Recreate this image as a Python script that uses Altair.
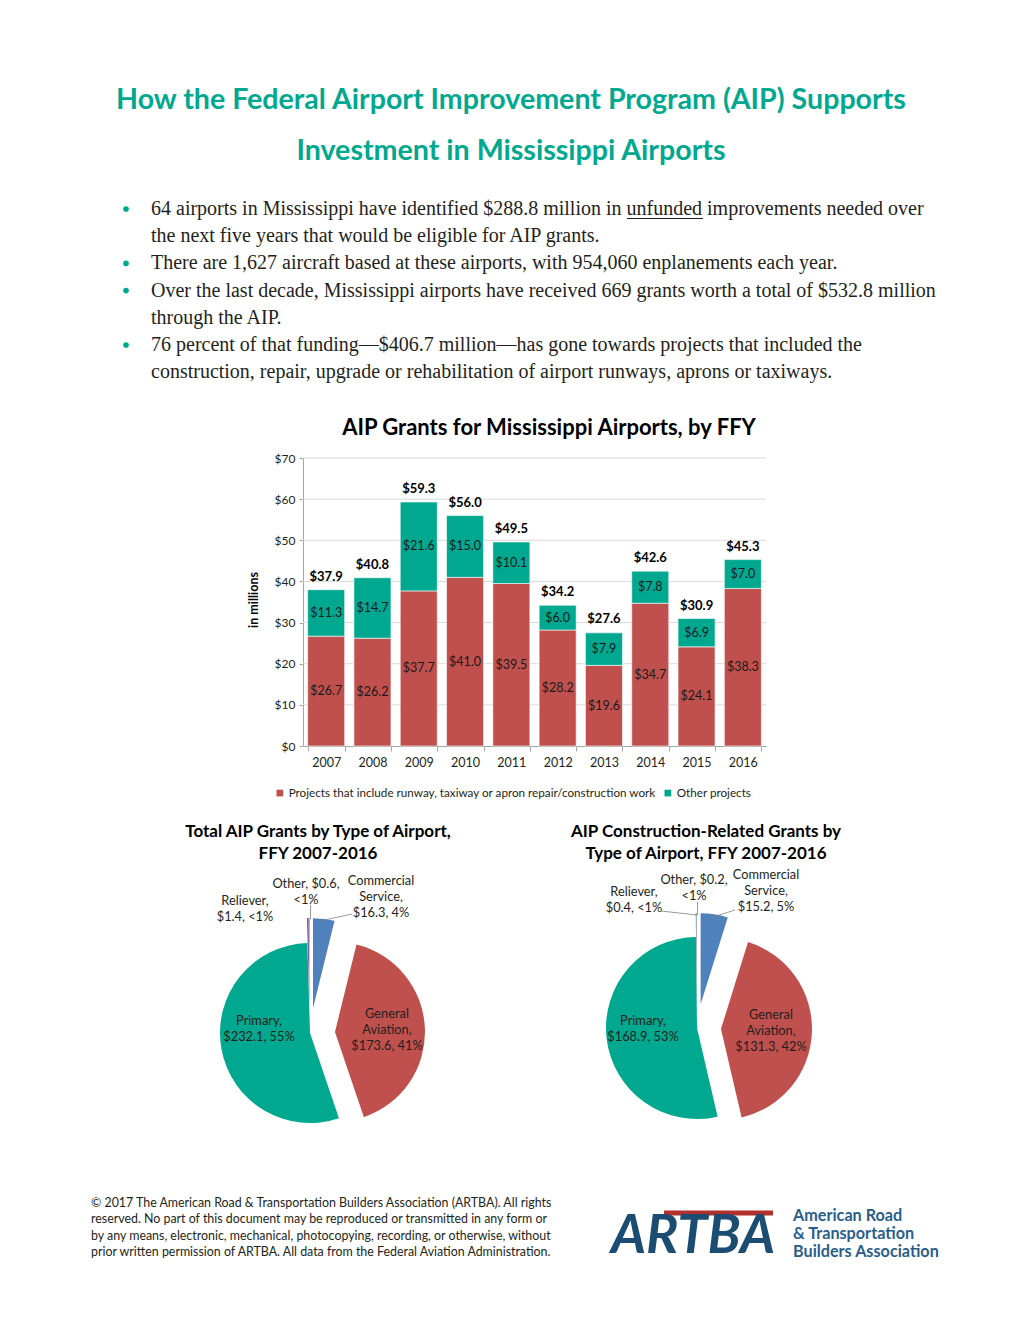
import math
import altair as alt
import pandas as pd

# ---------------- data ----------------
title_lines = ["How the Federal Airport Improvement Program (AIP) Supports",
               "Investment in Mississippi Airports"]
bullets = [
    ["64 airports in Mississippi have identified $288.8 million in unfunded improvements needed over",
     "the next five years that would be eligible for AIP grants."],
    ["There are 1,627 aircraft based at these airports, with 954,060 enplanements each year."],
    ["Over the last decade, Mississippi airports have received 669 grants worth a total of $532.8 million",
     "through the AIP."],
    ["76 percent of that funding\u2014$406.7 million\u2014has gone towards projects that included the",
     "construction, repair, upgrade or rehabilitation of airport runways, aprons or taxiways."],
]
bar_title = "AIP Grants for Mississippi Airports, by FFY"
y_axis_title = "in millions"
years = ["2007", "2008", "2009", "2010", "2011", "2012", "2013", "2014", "2015", "2016"]
runway_work = [26.7, 26.2, 37.7, 41.0, 39.5, 28.2, 19.6, 34.7, 24.1, 38.3]
other_projects = [11.3, 14.7, 21.6, 15.0, 10.1, 6.0, 7.9, 7.8, 6.9, 7.0]
year_totals = [37.9, 40.8, 59.3, 56.0, 49.5, 34.2, 27.6, 42.6, 30.9, 45.3]
series_names = ["Projects that include runway, taxiway or apron repair/construction work",
                "Other projects"]
y_ticks = [0, 10, 20, 30, 40, 50, 60, 70]

pie_titles = [["Total AIP Grants by Type of Airport,", "FFY 2007-2016"],
              ["AIP Construction-Related  Grants by", "Type of Airport, FFY 2007-2016"]]
airport_types = ["Commercial Service", "General Aviation", "Primary", "Reliever", "Other"]
total_grants = [16.3, 173.6, 232.1, 1.4, 0.6]
total_shares = ["4%", "41%", "55%", "<1%", "<1%"]
construction_grants = [15.2, 131.3, 168.9, 0.4, 0.2]
construction_shares = ["5%", "42%", "53%", "<1%", "<1%"]

footer_lines = [
    "\u00a9 2017 The American Road & Transportation Builders Association (ARTBA). All rights",
    "reserved. No part of this document may be reproduced or transmitted in any form or",
    "by any means, electronic, mechanical, photocopying, recording, or otherwise, without",
    "prior written permission of ARTBA. All data from the Federal Aviation Administration.",
]
org_name_lines = ["American Road", "& Transportation", "Builders Association"]
logo_text = "ARTBA"

# ---------------- style ----------------
W, H = 1020, 1320
TEAL = "#00A88F"
RED = "#C0504D"
BLUE = "#4F81BD"
PURPLE = "#8064A2"
LBLUE = "#4BACC6"
DARK = "#231F20"
SANS = "Lato"
SERIF = "Liberation Serif"
NAVY = "#1B4C72"
ORG = "#2A5E8A"

PLOT_L, PLOT_R, PLOT_T, PLOT_B = 303, 766, 458, 746


def text_layer(text, x, y, size, font=SANS, weight="normal", color=DARK, align="center",
               angle=None, style="normal", line_height=None, baseline="middle"):
    """y is the (middle) position of the first line."""
    kw = dict(fontSize=size, font=font, fontWeight=weight, color=color, align=align,
              baseline=baseline, fontStyle=style)
    if angle is not None:
        kw["angle"] = angle
    if line_height is not None:
        kw["lineHeight"] = line_height
        kw["lineBreak"] = "\n"
    return alt.Chart(pd.DataFrame({"t": [text]})).mark_text(**kw).encode(
        x=alt.value(x), y=alt.value(y), text="t:N")


def rule_layer(x1, y1, x2, y2, color, width):
    return alt.Chart(pd.DataFrame({"a": [0]})).mark_rule(color=color, strokeWidth=width).encode(
        x=alt.value(x1), y=alt.value(y1), x2=alt.value(x2), y2=alt.value(y2))


layers = []

# ---------------- bar chart ----------------
bar_df = pd.DataFrame({
    "year": years * 2,
    "series": [series_names[0]] * len(years) + [series_names[1]] * len(years),
    "value": runway_work + other_projects,
    "ord": [0] * len(years) + [1] * len(years),
})
tot_df = pd.DataFrame({"year": years, "total": year_totals})
grid_df = pd.DataFrame({"t": y_ticks[1:]})

x_scale = alt.Scale(domain=years, range=[PLOT_L, PLOT_R], paddingInner=0.2, paddingOuter=0.1)
y_scale = alt.Scale(domain=[0, 70], range=[PLOT_B, PLOT_T])
x_axis = alt.Axis(orient="bottom", offset=-(H - PLOT_B), title=None, labelAngle=0,
                  tickBand="extent", grid=False, domainColor="#A6A6A6", tickColor="#A6A6A6",
                  tickSize=5, labelFont=SANS, labelFontSize=12.5, labelColor=DARK, labelPadding=5)
y_axis = alt.Axis(orient="left", offset=-PLOT_L, title=None, values=y_ticks, grid=False,
                  labelExpr="'$' + datum.value", domainColor="#A6A6A6", tickColor="#A6A6A6",
                  tickSize=4, labelFont=SANS, labelFontSize=12, labelColor=DARK, labelPadding=4)

grid = alt.Chart(grid_df).mark_rule(color="#D9D9D9", strokeWidth=1).encode(
    y=alt.Y("t:Q", scale=y_scale, axis=y_axis),
    x=alt.value(PLOT_L), x2=alt.value(PLOT_R))

stacked = alt.Chart(bar_df).transform_stack(
    stack="value", groupby=["year"], as_=["y0", "y1"], sort=[alt.SortField("ord")]
).transform_calculate(
    ym="(datum.y0 + datum.y1) / 2",
    lab="'$' + format(datum.value, '.1f')",
)
bars = stacked.mark_bar(stroke="white", strokeWidth=0.6).encode(
    x=alt.X("year:N", scale=x_scale, axis=x_axis),
    y=alt.Y("y0:Q", scale=y_scale, axis=y_axis),
    y2="y1:Q",
    color=alt.Color("series:N", scale=alt.Scale(domain=series_names, range=[RED, TEAL]),
                    legend=alt.Legend(orient="none", legendX=274, legendY=787, direction="horizontal",
                                      title=None, symbolType="square", symbolSize=45,
                                      symbolStrokeWidth=0, labelFont=SANS, labelFontSize=11.7,
                                      labelColor=DARK, labelLimit=600, columnPadding=6,
                                      labelOffset=3)),
)
seg_labels = stacked.mark_text(font=SANS, fontSize=12.5, color="#1A1A1A").encode(
    x=alt.X("year:N", scale=x_scale, axis=x_axis),
    y=alt.Y("ym:Q", scale=y_scale, axis=y_axis),
    text="lab:N",
)
tot_labels = alt.Chart(tot_df).transform_calculate(
    lab="'$' + format(datum.total, '.1f')"
).mark_text(font=SANS, fontSize=13, fontWeight="bold", color="#000", dy=-13).encode(
    x=alt.X("year:N", scale=x_scale, axis=x_axis),
    y=alt.Y("total:Q", scale=y_scale, axis=y_axis),
    text="lab:N",
)
bar_group = alt.layer(grid, bars, seg_labels, tot_labels)
layers.append(bar_group)

# ---------------- pies ----------------
pie_colors = [BLUE, RED, TEAL, PURPLE, LBLUE]


def slice_label(t, v, s):
    val = f"${v:.1f}"
    if t == "Commercial Service":
        return f"Commercial\nService,\n{val}, {s}"
    if t == "General Aviation":
        return f"General\nAviation,\n{val}, {s}"
    if t == "Other":
        return f"Other, {val},\n{s}"
    return f"{t},\n{val}, {s}"


pie_specs = [
    dict(values=total_grants, shares=total_shares, cx=310, cy=1033, r=90, explode=25,
         title_x=318,
         labels={"Commercial Service": (381, 881), "General Aviation": (387, 1014),
                 "Primary": (259, 1021), "Reliever": (245, 901), "Other": (306, 884)},
         leaders=[((310.5, 905), (310.5, 919)), ((320, 921), (352, 914))]),
    dict(values=construction_grants, shares=construction_shares, cx=697, cy=1028, r=91,
         explode=24, title_x=706,
         labels={"Commercial Service": (766, 875), "General Aviation": (771, 1015),
                 "Primary": (643, 1021), "Reliever": (634, 892), "Other": (694, 880)},
         leaders=[((661, 911), (697, 915)), ((697.5, 902), (697.5, 915)),
                  ((713, 917), (735, 910))]),
]

for k, spec in enumerate(pie_specs):
    vals = spec["values"]
    total = sum(vals)
    df = pd.DataFrame({"type": airport_types, "value": vals, "idx": list(range(len(vals)))})
    pie = alt.Chart(df).transform_window(
        cum="sum(value)", sort=[alt.SortField("idx")]
    ).transform_calculate(
        start="datum.cum - datum.value",
        mid=f"(datum.cum - datum.value / 2) / {total} * 2 * PI",
        d=f"datum.type == 'Primary' ? 0 : {spec['explode']}",
    ).transform_calculate(
        px=f"{spec['cx']} + datum.d * sin(datum.mid)",
        py=f"{spec['cy']} - datum.d * cos(datum.mid)",
    ).mark_arc(radius=spec["r"]).encode(
        theta=alt.Theta("start:Q", stack=None,
                        scale=alt.Scale(domain=[0, total], range=[0, 2 * math.pi])),
        theta2="cum:Q",
        x=alt.X("px:Q", scale=None, axis=None),
        y=alt.Y("py:Q", scale=None, axis=None),
        color=alt.Color("type:N", scale=alt.Scale(domain=airport_types, range=pie_colors),
                        legend=None),
        order=alt.Order("idx:Q"),
    )
    layers.append(pie)
    for (p1, p2) in spec["leaders"]:
        layers.append(rule_layer(p1[0], p1[1], p2[0], p2[1], "#808080", 0.8))
    for t, v, s in zip(airport_types, vals, spec["shares"]):
        lx, ly = spec["labels"][t]
        layers.append(text_layer(slice_label(t, v, s), lx, ly, 12.8, line_height=16))
    layers.append(text_layer("\n".join(pie_titles[k]), spec["title_x"], 832, 17,
                             weight="bold", color="#000", line_height=22))

# ---------------- header ----------------
layers.append(text_layer(title_lines[0], 511, 100, 28.6, weight="bold", color=TEAL))
layers.append(text_layer(title_lines[1], 511, 151, 28.6, weight="bold", color=TEAL))

line_y0, line_step = 209, 27.2
li = 0
bullet_rows = []
for b in bullets:
    y_first = line_y0 + line_step * li
    bullet_rows.append(y_first)
    layers.append(text_layer("\n".join(b), 151, y_first, 20, font=SERIF, align="left",
                             line_height=line_step))
    li += len(b)
for by in bullet_rows:
    layers.append(alt.Chart(pd.DataFrame({"a": [0]})).mark_circle(size=32, color=TEAL, opacity=1)
                  .encode(x=alt.value(126), y=alt.value(by)))
# underline of "unfunded"
layers.append(rule_layer(627, 218.5, 703, 218.5, DARK, 1))

# bar chart title and y title
layers.append(text_layer(bar_title, 549, 428, 22, weight="bold", color="#000"))
layers.append(text_layer(y_axis_title, 254, 600, 12.5, weight="bold", color="#000", angle=270))

# ---------------- footer ----------------
layers.append(text_layer("\n".join(footer_lines), 91, 1203, 12.4, align="left",
                         line_height=16.3))
layers.append(rule_layer(664, 1213, 773, 1213, "#B3312C", 5))
layers.append(text_layer(logo_text, 611, 1237, 54, weight="bold", style="italic", color=NAVY,
                         align="left"))
layers.append(text_layer("\n".join(org_name_lines), 793, 1216, 16.2, weight="bold", color=ORG,
                         align="left", line_height=18))

chart = alt.layer(*layers).resolve_scale(
    x="independent", y="independent", color="independent", theta="independent"
).properties(
    width=W, height=H, padding=0, autosize="none", background="white"
).configure_view(stroke=None)

chart.save("out.html", embed_options={"renderer": "svg", "actions": False})
